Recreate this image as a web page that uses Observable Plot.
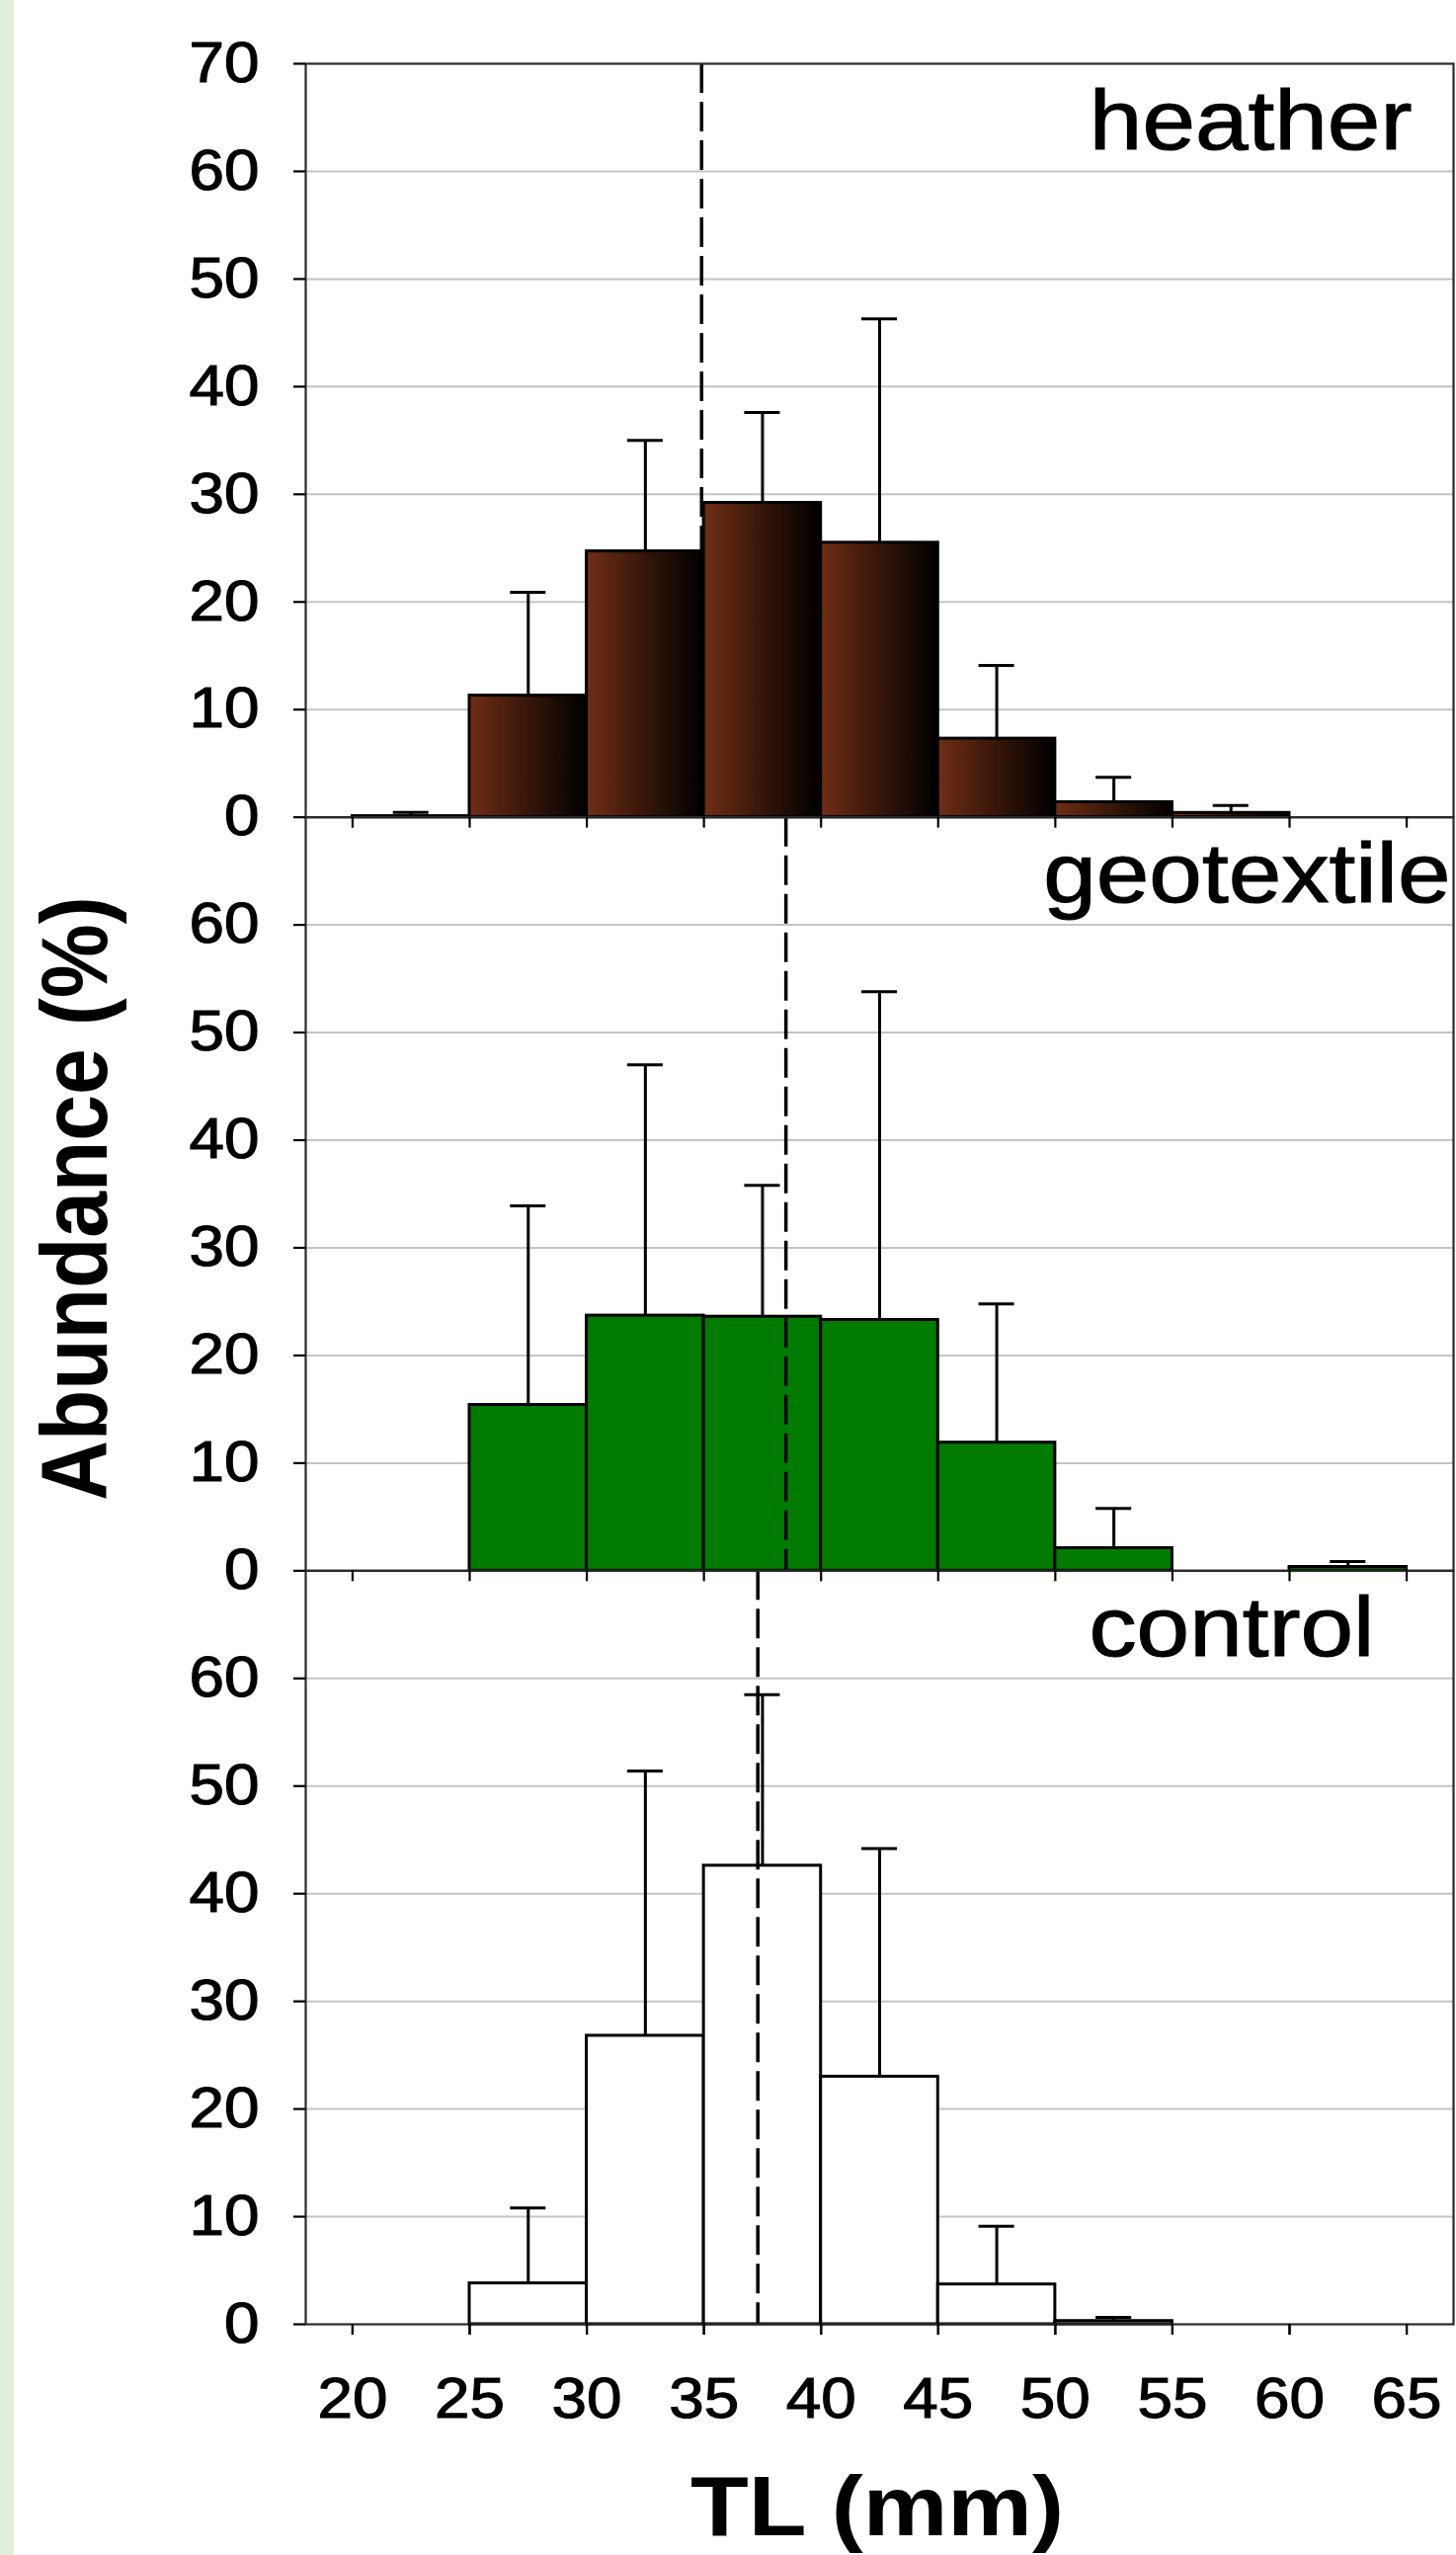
<!DOCTYPE html>
<html>
<head>
<meta charset="utf-8">
<script src="https://cdn.jsdelivr.net/npm/d3@7"></script>
<script src="https://cdn.jsdelivr.net/npm/@observablehq/plot@0.6"></script>
<style>
  html, body { margin: 0; padding: 0; background: #ffffff; }
  #wrap { position: relative; width: 1474px; height: 2586px; overflow: hidden; }
</style>
</head>
<body>
<div id="wrap"></div>
<script>
// ---- data ----
const panels = ["heather", "geotextile", "control"];
const binStart = [20, 25, 30, 35, 40, 45, 50, 55, 60];   // TL bins (mm), each 5 mm wide
const binWidth = 5;

const heather       = [0.1, 11.3, 24.7, 29.2, 25.5, 7.3, 1.4, 0.4, 0];
const heatherErr    = [0.45, 20.9, 35.0, 37.6, 46.3, 14.1, 3.7, 1.1, null];
const geotextile    = [0, 15.4, 23.7, 23.6, 23.3, 11.9, 2.1, 0, 0.35];
const geotextileErr = [null, 33.9, 47.0, 35.8, 53.8, 24.8, 5.8, null, 0.85];
const control       = [0, 3.8, 26.8, 42.6, 23.0, 3.7, 0.3, 0, 0];
const controlErr    = [null, 10.8, 51.4, 58.5, 44.2, 9.1, 0.65, null, null];

const meanTL = [34.9, 38.5, 37.3];   // dashed lines (mean TL) per panel

const xTicks = [20, 25, 30, 35, 40, 45, 50, 55, 60, 65];
const yTicks = [0, 10, 20, 30, 40, 50, 60];
const yTopTick = [70];
const gridTicks = [10, 20, 30, 40, 50, 60];

// ---- build tables ----
const valuesBy = {heather, geotextile, control};
const errBy = {heather: heatherErr, geotextile: geotextileErr, control: controlErr};
const rows = [];
for (const p of panels) {
  binStart.forEach((b, j) => {
    const v = valuesBy[p][j];
    if (v > 0) rows.push({panel: p, x1: b, x2: b + binWidth, mid: b + binWidth / 2, value: v, err: errBy[p][j]});
  });
}
const errRows = rows.filter(d => d.err != null);
const meanRows = panels.map((p, i) => ({panel: p, mean: meanTL[i]}));

const fills = {heather: "url(#heatherGrad)", geotextile: "#007b00", control: "#ffffff"};
const capHalf = 0.76;
const labelDx = {heather: -42, geotextile: -3, control: -80};

const font = "'Liberation Sans', Arial, Helvetica, sans-serif";
const stretch = 1.12;   // the original figure's lettering is slightly wide

const chart = Plot.plot({
  width: 1474,
  height: 2586,
  marginLeft: 309,
  marginRight: 3,
  marginTop: 64,
  marginBottom: 234,
  style: {fontFamily: font, background: "transparent", color: "#000", overflow: "visible"},
  x: {domain: [18, 67]},
  y: {domain: [0, 70]},
  fy: {domain: panels, padding: 0, round: false, axis: null, label: null},
  marks: [
    Plot.gridY(gridTicks, {stroke: "#c4c4c4", strokeOpacity: 1, strokeWidth: 2}),
    ...panels.map(p => Plot.rectY(rows.filter(d => d.panel === p), {
      x1: "x1", x2: "x2", y: "value", fy: "panel",
      fill: fills[p], stroke: "#000", strokeWidth: 3
    })),
    Plot.ruleX(errRows, {x: "mid", y1: "value", y2: "err", fy: "panel", stroke: "#000", strokeWidth: 3}),
    Plot.ruleY(errRows, {y: "err", x1: d => d.mid - capHalf, x2: d => d.mid + capHalf, fy: "panel", stroke: "#000", strokeWidth: 3}),
    Plot.ruleX(meanRows, {x: "mean", fy: "panel", stroke: "#000", strokeWidth: 3.5, strokeDasharray: "30,9"}),
    Plot.frame({stroke: "#2a2a2a", strokeWidth: 2.2}),
    Plot.axisY(yTicks, {tickSize: 12, tickPadding: 35, fontSize: 57, strokeWidth: 2.2, label: null}),
    Plot.axisY(yTopTick, {tickSize: 12, tickPadding: 35, fontSize: 57, strokeWidth: 2.2, label: null, facetAnchor: "top"}),
    Plot.axisX(xTicks, {tickSize: 11, tickFormat: () => "", strokeWidth: 2.2, label: null, facetAnchor: null}),
    Plot.axisX(xTicks, {tickSize: 11, tickPadding: 43, fontSize: 57, strokeWidth: 2.2, label: null}),
    ...panels.map(p => Plot.text([p], {
      fy: d => d, text: d => d, frameAnchor: "top-right",
      textAnchor: "end", lineAnchor: "top", dx: labelDx[p], dy: 25, fontSize: 86, fill: "#000"
    }))
  ]
});

// widen (and slightly embolden) Plot's lettering about each text's own anchor point
d3.select(chart).selectAll("text").each(function () {
  const t = this.getAttribute("transform") || "";
  const x = this.getAttribute("x");
  if (x != null && +x !== 0) {
    this.setAttribute("transform", `${t} translate(${x},0) scale(${stretch},1)`);
    this.setAttribute("x", 0);
  } else {
    this.setAttribute("transform", `${t} scale(${stretch},1)`);
  }
  this.setAttribute("stroke", "#000");
  this.setAttribute("stroke-width", 1.1);
  this.setAttribute("paint-order", "stroke");
});

// gradient for heather bars, left strip, axis titles
const svg = d3.select(chart);
const defs = svg.insert("defs", ":first-child");
const lg = defs.append("linearGradient").attr("id", "heatherGrad")
  .attr("x1", 0).attr("y1", 0).attr("x2", 1).attr("y2", 0);
lg.append("stop").attr("offset", "0%").attr("stop-color", "#6f2e14");
lg.append("stop").attr("offset", "45%").attr("stop-color", "#3c180a");
lg.append("stop").attr("offset", "100%").attr("stop-color", "#000000");

svg.insert("rect", "defs + *").attr("x", 0).attr("y", 0).attr("width", 14).attr("height", 2586).attr("fill", "#e2efda");

svg.append("text")
  .attr("transform", "translate(108,1213) rotate(-90) scale(1,1.12)")
  .attr("text-anchor", "middle")
  .attr("font-family", font).attr("font-weight", "bold").attr("font-size", 84)
  .attr("fill", "#000")
  .text("Abundance (%)");

svg.append("text")
  .attr("transform", `translate(888,2566) scale(${stretch},1)`)
  .attr("text-anchor", "middle")
  .attr("font-family", font).attr("font-weight", "bold").attr("font-size", 86)
  .attr("fill", "#000")
  .text("TL (mm)");

document.getElementById("wrap").appendChild(chart);
</script>
</body>
</html>
